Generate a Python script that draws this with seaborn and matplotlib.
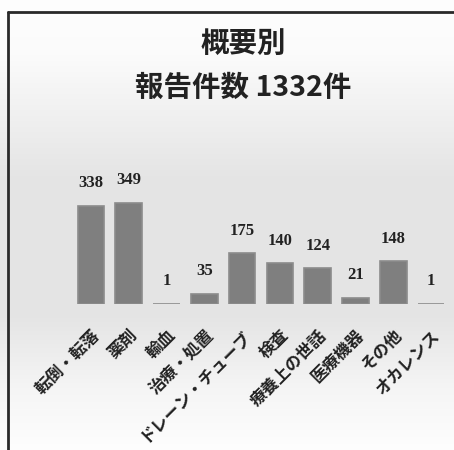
import numpy as np
import pandas as pd
import matplotlib
matplotlib.use("Agg")
import matplotlib.pyplot as plt
from matplotlib.lines import Line2D
import seaborn as sns

categories = ["転倒・転落", "薬剤", "輸血", "治療・処置", "ドレーン・チューブ",
              "検査", "療養上の世話", "医療機器", "その他", "オカレンス"]
counts = [338, 349, 1, 35, 175, 140, 124, 21, 148, 1]
total = 1332
title_lines = ["概要別", f"報告件数 {total}件"]

sns.set_theme(style="white")
plt.rcParams["font.family"] = ["Noto Sans CJK JP", "DejaVu Sans"]

df = pd.DataFrame({"category": categories, "count": counts})

fig = plt.figure(figsize=(4.54, 4.50), dpi=100)

# vertical gradient background: white at top, light grey in the middle, white at bottom
bg = fig.add_axes([0, 0, 1, 1], zorder=-10)
stops_y = np.array([0.0, 0.12, 0.40, 0.70, 0.86, 1.0])
stops_v = np.array([0.995, 0.985, 0.895, 0.895, 0.96, 0.995])
yy = np.linspace(0, 1, 450)
col = np.interp(yy, stops_y, stops_v)
grad = np.repeat(col[:, None], 4, axis=1)
bg.imshow(np.dstack([grad, grad, grad]), aspect="auto", extent=[0, 1, 1, 0])
bg.set_axis_off()

# frame lines on left and top edges
fig.add_artist(Line2D([8 / 454, 8 / 454], [0, 1 - 12 / 450], color="#2a2a2a",
                      lw=2.0, transform=fig.transFigure))
fig.add_artist(Line2D([8 / 454, 1], [1 - 12 / 450, 1 - 12 / 450], color="#2a2a2a",
                      lw=2.0, transform=fig.transFigure))

ax = fig.add_axes([72 / 454, 1 - 304 / 450, 378 / 454, 116 / 450])
ax.patch.set_alpha(0)
sns.barplot(data=df, x="category", y="count", color="#7f7f7f", saturation=1,
            width=0.70, ax=ax, edgecolor="#8c8c8c", linewidth=1.2)
ax.set_ylim(0, 400)
ax.set_xlim(-0.5, 9.5)
for s in ax.spines.values():
    s.set_visible(False)
ax.set_yticks([])
ax.set_xlabel("")
ax.set_ylabel("")

for i, v in enumerate(counts):
    ax.text(i, v + 50, str(v), ha="center", va="bottom", fontsize=12,
            fontweight="bold", family=["Liberation Serif", "DejaVu Serif"],
            color="#222222")

ax.set_xticks(range(len(categories)))
ax.set_xticklabels(categories, rotation=45, ha="right", rotation_mode="anchor",
                   fontsize=12, fontweight="bold", color="#222222")
ax.tick_params(axis="x", length=0, pad=16)

for k, line in enumerate(title_lines):
    fig.text(243 / 454, 1 - (44 + 44 * k) / 450, line, ha="center", va="center",
             fontsize=20.5, fontweight="bold", color="#222222")

fig.savefig("out.png", dpi=100)
